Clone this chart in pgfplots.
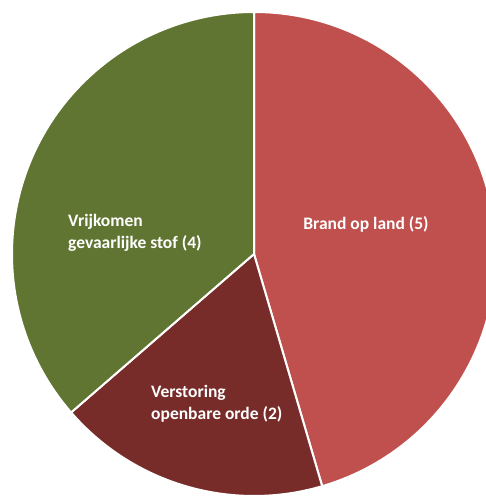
\documentclass[border=0pt]{standalone}
\usepackage{pgfplots}
\pgfplotsset{compat=1.18}
\usepackage{pgfplotstable}
\usepackage{fontspec}
\setmainfont{Carlito}

\definecolor{brandred}{HTML}{C0504D}
\definecolor{darkred}{HTML}{772C2A}
\definecolor{olivegreen}{HTML}{617532}

% incidents per type
\pgfplotstableread[col sep=comma]{
label,value
Brand op land,5
Verstoring openbare orde,2
Vrijkomen gevaarlijke stof,4
}\incidents

\pgfplotstablegetelem{0}{value}\of\incidents \let\va\pgfplotsretval
\pgfplotstablegetelem{1}{value}\of\incidents \let\vb\pgfplotsretval
\pgfplotstablegetelem{2}{value}\of\incidents \let\vc\pgfplotsretval
\pgfmathsetmacro\total{\va+\vb+\vc}
% slices run clockwise from 12 o'clock
\pgfmathsetmacro\aA{90}
\pgfmathsetmacro\aB{\aA-360*\va/\total}
\pgfmathsetmacro\aC{\aB-360*\vb/\total}
\pgfmathsetmacro\aD{\aC-360*\vc/\total}

\def\cx{254}
\def\cy{242}
\def\rad{242pt}

\begin{document}
\begin{tikzpicture}
\begin{axis}[
    hide axis,
    scale only axis,
    width=486pt, height=496pt,
    xmin=0, xmax=486, ymin=0, ymax=496,
    clip=true,
]
\path (rel axis cs:0,0) rectangle (rel axis cs:1,1);
\fill[brandred, draw=white, line width=2pt] (\cx,\cy) -- ++(\aA:\rad) arc[start angle=\aA, end angle=\aB, radius=\rad] -- cycle;
\fill[darkred, draw=white, line width=2pt] (\cx,\cy) -- ++(\aB:\rad) arc[start angle=\aB, end angle=\aC, radius=\rad] -- cycle;
\fill[olivegreen, draw=white, line width=2pt] (\cx,\cy) -- ++(\aC:\rad) arc[start angle=\aC, end angle=\aD, radius=\rad] -- cycle;

\tikzset{lbl/.style={text=white, font=\bfseries\fontsize{17.5}{22}\selectfont, inner sep=0pt}}
\node[lbl, anchor=center] at (366,272) {Brand op land (5)};
\node[lbl, anchor=west, align=left] at (68,263) {Vrijkomen\\gevaarlijke stof (4)};
\node[lbl, anchor=west, align=left] at (151,92) {Verstoring\\openbare orde (2)};
\end{axis}
\end{tikzpicture}
\end{document}
